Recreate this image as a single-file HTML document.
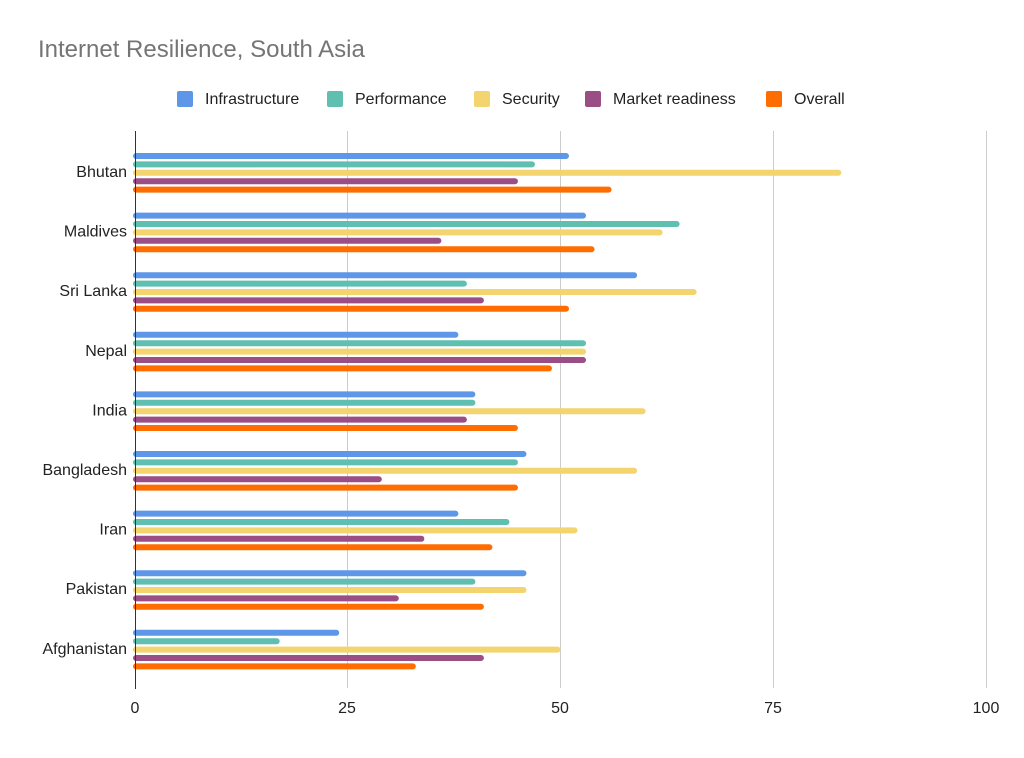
<!DOCTYPE html>
<html><head><meta charset="utf-8"><style>
body{margin:0;background:#fff}
svg text{font-family:"Liberation Sans",Arial,sans-serif}
</style></head><body>
<svg width="1024" height="753" xmlns="http://www.w3.org/2000/svg">
<rect width="1024" height="753" fill="#fff"/>
<text x="38" y="57" font-size="24" fill="#757575">Internet Resilience, South Asia</text>
<g font-size="16" fill="#222">
<rect x="177" y="91" width="16" height="16" rx="2" fill="#5f97e8"/><text x="205" y="104">Infrastructure</text>
<rect x="327" y="91" width="16" height="16" rx="2" fill="#5fbfb0"/><text x="355" y="104">Performance</text>
<rect x="474" y="91" width="16" height="16" rx="2" fill="#f3d46e"/><text x="502" y="104">Security</text>
<rect x="585" y="91" width="16" height="16" rx="2" fill="#9b4e86"/><text x="613" y="104">Market readiness</text>
<rect x="766" y="91" width="16" height="16" rx="2" fill="#ff6d01"/><text x="794" y="104">Overall</text>
</g>
<g stroke="#ccc" stroke-width="1">
<line x1="347.5" y1="131" x2="347.5" y2="688"/>
<line x1="560.5" y1="131" x2="560.5" y2="688"/>
<line x1="773.5" y1="131" x2="773.5" y2="688"/>
<line x1="986.5" y1="131" x2="986.5" y2="688"/>
</g>
<g id="bars"></g>
<line x1="135.5" y1="131" x2="135.5" y2="689" stroke="#333" stroke-width="1"/>
<g font-size="16" fill="#222" text-anchor="middle">
<text x="135" y="713">0</text><text x="347" y="713">25</text><text x="560" y="713">50</text><text x="773" y="713">75</text><text x="986" y="713">100</text>
</g>
<g font-size="16" fill="#222" text-anchor="end" id="labels"></g>
<script>
var d=[["Bhutan",51,47,83,45,56],["Maldives",53,64,62,36,54],["Sri Lanka",59,39,66,41,51],["Nepal",38,53,53,53,49],["India",40,40,60,39,45],["Bangladesh",46,45,59,29,45],["Iran",38,44,52,34,42],["Pakistan",46,40,46,31,41],["Afghanistan",24,17,50,41,33]];
var c=["#5f97e8","#5fbfb0","#f3d46e","#9b4e86","#ff6d01"];
var ns="http://www.w3.org/2000/svg",g=document.getElementById("bars"),l=document.getElementById("labels");
d.forEach(function(r,i){var cy=172+i*59.6;
for(var k=0;k<5;k++){var w=r[k+1]*8.51;var p=document.createElementNS(ns,"rect");
p.setAttribute("x",133);p.setAttribute("y",cy-19+k*8.4);p.setAttribute("width",w+2);p.setAttribute("height",6);p.setAttribute("rx",3);p.setAttribute("fill",c[k]);g.appendChild(p);}
var t=document.createElementNS(ns,"text");t.setAttribute("x",127);t.setAttribute("y",cy+5);t.textContent=r[0];l.appendChild(t);});
</script>
</svg>
</body></html>
